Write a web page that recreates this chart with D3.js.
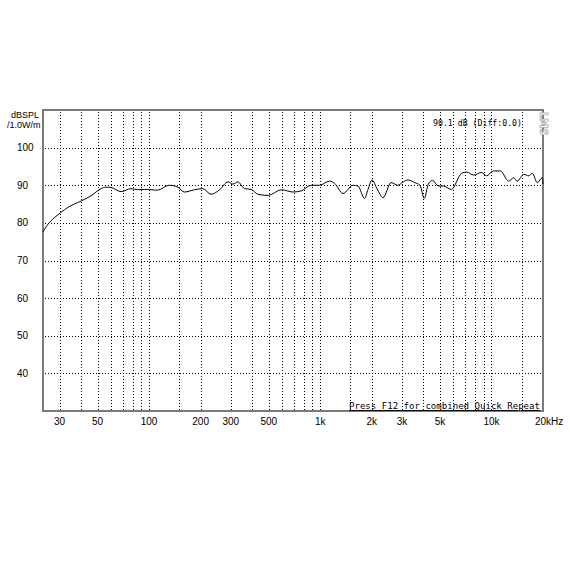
<!DOCTYPE html>
<html><head><meta charset="utf-8">
<script src="https://cdn.jsdelivr.net/npm/d3@7/dist/d3.min.js"></script>
<style>body{margin:0;background:#fff}svg{display:block}</style>
</head><body><div id="chart"></div>
<script>
const freqs = [24,24.5,30.6,33.5,40,45.8,52.4,56,60,68.6,78.4,85.9,93.9,102.7,112,131,147,161,184,206,230,258,289,309,330,361,394,432,495,594,692,774,885,990,1134,1212,1357,1552,1660,1815,1900,2005,2150,2325,2593,2840,3050,3260,3565,3822,4050,4275,4525,4890,5240,5830,6700,7170,7870,8760,9360,10260,11270,12600,13500,14110,15450,16550,17300,18530,19800,20000];
const spl = [77.6,78.3,82.8,84.1,85.8,87.2,89.1,89.5,89.4,88.3,89.1,88.8,88.9,88.8,88.7,90.0,89.5,88.2,88.8,89.1,87.6,88.8,90.9,90.3,90.9,89.1,88.9,87.6,87.3,88.8,88.2,88.5,90.0,90.0,91.1,90.5,87.8,90.0,89.8,86.5,88.9,91.4,89.0,86.7,90.7,90.0,90.9,91.4,90.7,90.0,86.5,90.3,91.3,89.8,89.8,88.9,93.2,93.5,92.7,93.4,92.5,93.8,93.8,91.1,92.0,91.1,92.9,92.5,93.2,90.7,92.0,90.3];
const xTickVals = [30,50,100,200,300,500,1000,2000,3000,5000,10000,20000];
const xTickLabels = ["30","50","100","200","300","500","1k","2k","3k","5k","10k","20k"];
const xGrid = [30,40,50,60,70,80,90,100,150,200,300,400,500,600,700,800,900,1000,1500,2000,3000,4000,5000,6000,7000,8000,9000,10000,15000];
const yTickVals = [40,50,60,70,80,90,100];

const W=570,H=570;
const svg=d3.select("#chart").append("svg").attr("width",W).attr("height",H);
const x=d3.scaleLog().domain([24,20000]).range([43,543]);
const y=d3.scaleLinear().domain([30,110]).range([411,110]);

const grid=svg.append("g").attr("stroke","#000").attr("stroke-width",1).attr("stroke-dasharray","1,2").attr("shape-rendering","crispEdges");
grid.selectAll("line.v").data(xGrid).enter().append("line").attr("class","v")
  .attr("x1",d=>Math.round(x(d))+0.5).attr("x2",d=>Math.round(x(d))+0.5).attr("y1",112).attr("y2",410);
grid.selectAll("line.h").data(yTickVals).enter().append("line").attr("class","h")
  .attr("y1",d=>Math.round(y(d))+0.5).attr("y2",d=>Math.round(y(d))+0.5).attr("x1",45).attr("x2",542);

// border
svg.append("rect").attr("x",43).attr("y",110).attr("width",500).attr("height",301)
  .attr("fill","none").attr("stroke","#7a7a7a").attr("stroke-width",2);

// logo
svg.append("text").attr("transform","translate(540,112) rotate(90)")
  .attr("font-family","DejaVu Sans").attr("font-size",10).attr("font-weight","bold")
  .attr("fill","#fff").attr("stroke","#b0b0b0").attr("stroke-width",0.8).text("LMS");

// curve
const line=d3.line().x((d,i)=>x(freqs[i])).y(d=>y(d)).curve(d3.curveMonotoneX);
svg.append("path").datum(spl).attr("d",line).attr("fill","none").attr("stroke","#000").attr("stroke-width",1);

// y labels
svg.selectAll("text.yl").data(yTickVals).enter().append("text").attr("class","yl")
  .attr("x",17).attr("y",d=>y(d)+3.5).attr("font-family","Liberation Sans, Arial").attr("font-size",10)
  .attr("fill","#000").text(d=>d);
svg.append("text").attr("x",11).attr("y",118).attr("font-family","Liberation Sans, Arial").attr("font-size",9).text("dBSPL");
svg.append("text").attr("x",7).attr("y",128).attr("font-family","Liberation Sans, Arial").attr("font-size",9).text("/1.0W/m");

// x labels
svg.selectAll("text.xl").data(xTickVals).enter().append("text").attr("class","xl")
  .attr("x",(d,i)=>i===xTickVals.length-1? x(d)-8 : x(d)).attr("y",425)
  .attr("text-anchor",(d,i)=>i===xTickVals.length-1?"start":"middle")
  .attr("font-family","Liberation Sans, Arial").attr("font-size",10)
  .text((d,i)=>i===xTickVals.length-1? xTickLabels[i]+"Hz" : xTickLabels[i]);

// annotations
svg.append("text").attr("x",433).attr("y",126).attr("font-family","DejaVu Sans Mono").attr("font-size",9)
  .attr("textLength",89).attr("lengthAdjust","spacingAndGlyphs").text("90.1 dB (Diff:0.0)");
svg.append("text").attr("x",349).attr("y",409).attr("font-family","DejaVu Sans Mono").attr("font-size",9)
  .attr("textLength",191).attr("lengthAdjust","spacingAndGlyphs").attr("text-decoration","underline")
  .text("Press F12 for combined Quick Repeat");
</script></body></html>
